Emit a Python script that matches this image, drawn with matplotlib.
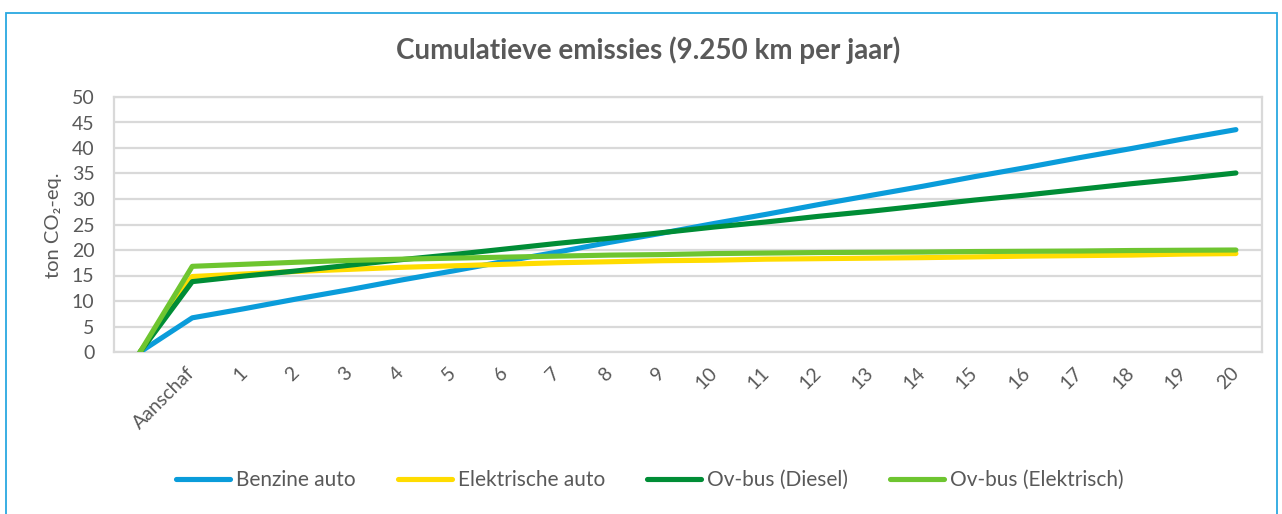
import matplotlib
matplotlib.use("Agg")
import matplotlib.pyplot as plt
from matplotlib.patches import Rectangle

# ---- data ----
categories = ["", "Aanschaf"] + [str(i) for i in range(1, 21)]
benzine_auto = [0, 6.7, 8.5, 10.4, 12.2, 14.1, 15.9, 17.8, 19.6, 21.5, 23.3, 25.2,
                27.0, 28.9, 30.7, 32.5, 34.4, 36.2, 38.1, 39.9, 41.8, 43.6]
elektrische_auto = [0, 14.8, 15.3, 15.8, 16.2, 16.6, 16.9, 17.2, 17.5, 17.7, 17.9, 18.0,
                    18.2, 18.3, 18.4, 18.5, 18.65, 18.8, 18.9, 19.0, 19.2, 19.3]
ovbus_diesel = [0, 13.8, 14.9, 15.9, 17.0, 18.1, 19.1, 20.2, 21.3, 22.3, 23.4, 24.5,
                25.5, 26.6, 27.6, 28.7, 29.8, 30.8, 31.9, 33.0, 34.0, 35.1]
ovbus_elektrisch = [0, 16.8, 17.2, 17.6, 17.95, 18.2, 18.4, 18.6, 18.8, 19.0, 19.1, 19.3,
                    19.4, 19.5, 19.55, 19.6, 19.7, 19.75, 19.8, 19.9, 19.95, 20.0]
series_names = ["Benzine auto", "Elektrische auto", "Ov-bus (Diesel)", "Ov-bus (Elektrisch)"]
y_ticks = [0, 5, 10, 15, 20, 25, 30, 35, 40, 45, 50]

title = "Cumulatieve emissies (9.250 km per jaar)"
ylabel = "ton CO₂-eq."

# ---- style ----
plt.rcParams['font.family'] = ['Lato', 'DejaVu Sans']
text_color = "#595959"
grid_color = "#D9D9D9"
colors = ["#0A9CDA", "#FFDC00", "#008D36", "#6EC530"]

W, H = 1282, 514
fig = plt.figure(figsize=(W / 100, H / 100), dpi=100)
fig.patch.set_facecolor("white")

ax = fig.add_axes([114 / W, 1 - 352 / H, (1262 - 114) / W, (352 - 97) / H])

x = list(range(len(categories)))
for vals, name, c in zip([benzine_auto, elektrische_auto, ovbus_diesel, ovbus_elektrisch],
                         series_names, colors):
    ax.plot(x, vals, color=c, lw=3.7, label=name,
            solid_capstyle="round", solid_joinstyle="round", zorder=3)

ax.set_xlim(-0.5, len(categories) - 0.5)
ax.set_ylim(0, 50)
ax.set_yticks(y_ticks)
ax.set_yticklabels([str(v) for v in y_ticks])
ax.set_xticks(x)
ax.set_xticklabels(categories, rotation=45, ha="right", va="center",
                   rotation_mode="anchor")
ax.tick_params(axis="both", length=0, colors=text_color, labelsize=14)
ax.tick_params(axis="y", pad=14)
ax.tick_params(axis="x", pad=13)
ax.grid(axis="y", color=grid_color, lw=1.6, zorder=0)
for sp in ax.spines.values():
    sp.set_color(grid_color)
    sp.set_linewidth(1.6)

fig.text(648 / W, 1 - 50 / H, title, ha="center", va="center",
         fontsize=20, fontweight="bold", color=text_color)
fig.text(53 / W, 1 - 225 / H, ylabel, ha="center", va="center", rotation=90,
         fontsize=14.5, color=text_color)

leg = fig.legend(loc="center", bbox_to_anchor=(650 / W, 1 - 480 / H), ncol=4,
                 frameon=False, fontsize=15, handlelength=2.6, handletextpad=0.3,
                 columnspacing=2.0, labelcolor=text_color)

# chart border
fig.patches.append(Rectangle((6 / W, -0.05), (1277 - 6) / W, 1.05 - 13 / H,
                             transform=fig.transFigure, fill=False,
                             edgecolor="#29A8E0", lw=1.3))

fig.savefig("out.png", dpi=100, facecolor="white")
